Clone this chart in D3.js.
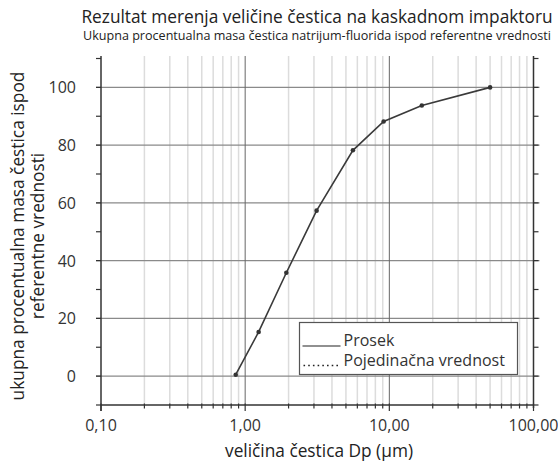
<!DOCTYPE html>
<html>
<head>
<meta charset="utf-8">
<script src="https://cdn.jsdelivr.net/npm/d3@7"></script>
<style>
  body { margin: 0; background: #fff; }
  svg { font-family: "Open Sans", sans-serif; }
</style>
</head>
<body>
<div id="chart"></div>
<script>
// measured particle size (µm) and cumulative mass % below it
const sizes = [0.86, 1.24, 1.93, 3.13, 5.59, 9.13, 16.8, 50]
const massPct = [0.5, 15.3, 35.8, 57.3, 78.2, 88.2, 93.7, 100]

const xTickLabels = ["0,10", "1,00", "10,00", "100,00"]
const yTickLabels = [0, 20, 40, 60, 80, 100]
const legendLabels = ["Prosek", "Pojedinačna vrednost"]

const title = "Rezultat merenja veličine čestica na kaskadnom impaktoru"
const subtitle = "Ukupna procentualna masa čestica natrijum-fluorida ispod referentne vrednosti"

const W = 558, H = 463
const svg = d3.select("#chart").append("svg")
    .attr("width", W)
    .attr("height", H)

const x = d3.scaleLog().domain([0.1, 100]).range([101, 533.5])
const y = d3.scaleLinear().domain([-10, 110]).range([405, 58.5])

const dark = "#333"

// minor vertical grid (2..9 within each decade)
const minorX = []
for (let d = 0.1; d < 100; d *= 10) {
    for (let k = 2; k <= 9; k += 1) minorX.push(d * k)
}
const decades = [0.1, 1, 10, 100]

svg.append("g")
    .selectAll("line")
    .data(minorX)
    .enter()
    .append("line")
    .attr("x1", d => x(d)).attr("x2", d => x(d))
    .attr("y1", y(110) - 2.5).attr("y2", y(-10))
    .attr("stroke", "#dcdcdc")
    .attr("stroke-width", 1.5)

// horizontal grid, every 20
svg.append("g")
    .selectAll("line")
    .data(yTickLabels)
    .enter()
    .append("line")
    .attr("x1", x(0.1) - 5).attr("x2", x(100) + 6)
    .attr("y1", d => y(d)).attr("y2", d => y(d))
    .attr("stroke", "#8a8a8a")
    .attr("stroke-width", 1.2)

// decade verticals
svg.append("g")
    .selectAll("line")
    .data(decades.slice(1, 3))
    .enter()
    .append("line")
    .attr("x1", d => x(d)).attr("x2", d => x(d))
    .attr("y1", y(110) - 2.5).attr("y2", y(-10))
    .attr("stroke", "#666")
    .attr("stroke-width", 1)

// left / right axes with ticks every 10
const yTicks = d3.range(-10, 111, 10)
const axisG = svg.append("g").attr("stroke", dark)
axisG.append("line")
    .attr("x1", x(0.1)).attr("x2", x(0.1))
    .attr("y1", y(110) - 2.5).attr("y2", y(-10) + 6)
    .attr("stroke-width", 1.5)
axisG.append("line")
    .attr("x1", x(100)).attr("x2", x(100))
    .attr("y1", y(110) - 2.5).attr("y2", y(-10) + 3)
    .attr("stroke-width", 1.5)
axisG.selectAll(".ltick")
    .data(yTicks)
    .enter()
    .append("line")
    .attr("class", "ltick")
    .attr("x1", x(0.1) - 5).attr("x2", x(0.1))
    .attr("y1", d => y(d)).attr("y2", d => y(d))
    .attr("stroke-width", 1.2)
axisG.selectAll(".rtick")
    .data(yTicks)
    .enter()
    .append("line")
    .attr("class", "rtick")
    .attr("x1", x(100)).attr("x2", x(100) + 5)
    .attr("y1", d => y(d)).attr("y2", d => y(d))
    .attr("stroke-width", 1.2)

// bottom axis
axisG.append("line")
    .attr("x1", x(0.1)).attr("x2", x(100))
    .attr("y1", y(-10)).attr("y2", y(-10))
    .attr("stroke-width", 1.5)
axisG.selectAll(".btick")
    .data(minorX.concat(decades))
    .enter()
    .append("line")
    .attr("class", "btick")
    .attr("x1", d => x(d)).attr("x2", d => x(d))
    .attr("y1", y(-10) - 1.5)
    .attr("y2", d => y(-10) + (decades.includes(d) ? 6 : 3.5))
    .attr("stroke-width", 1.2)

// tick labels
svg.append("g")
    .selectAll("text")
    .data(yTickLabels)
    .enter()
    .append("text")
    .attr("x", 76)
    .attr("y", d => y(d) + 6)
    .attr("text-anchor", "end")
    .attr("font-size", 16)
    .attr("fill", dark)
    .text(d => d)

svg.append("g")
    .selectAll("text")
    .data(decades)
    .enter()
    .append("text")
    .attr("x", d => x(d))
    .attr("y", 431)
    .attr("text-anchor", "middle")
    .attr("font-size", 16)
    .attr("fill", dark)
    .text((d, i) => xTickLabels[i])

// data line + markers
const line = d3.line()
    .x(d => x(d[0]))
    .y(d => y(d[1]))
const pts = sizes.map((s, i) => [s, massPct[i]])

svg.append("path")
    .attr("d", line(pts))
    .attr("fill", "none")
    .attr("stroke", "#3a3a3a")
    .attr("stroke-width", 1.6)

svg.append("g")
    .selectAll("circle")
    .data(pts)
    .enter()
    .append("circle")
    .attr("cx", d => x(d[0]))
    .attr("cy", d => y(d[1]))
    .attr("r", 2.3)
    .attr("fill", "#333")

// legend
const lg = svg.append("g").attr("transform", "translate(299.5,322.5)")
lg.append("rect")
    .attr("width", 218).attr("height", 52)
    .attr("fill", "#fff")
    .attr("stroke", "#555")
    .attr("stroke-width", 1.2)
lg.append("line")
    .attr("x1", 3).attr("x2", 41)
    .attr("y1", 23.5).attr("y2", 23.5)
    .attr("stroke", "#222").attr("stroke-width", 1.2)
lg.append("line")
    .attr("x1", 4).attr("x2", 41)
    .attr("y1", 43).attr("y2", 43)
    .attr("stroke", "#222").attr("stroke-width", 1.6)
    .attr("stroke-dasharray", "1.6,3.1")
lg.selectAll("text")
    .data(legendLabels)
    .enter()
    .append("text")
    .attr("x", 44)
    .attr("y", (d, i) => 23 + i * 20)
    .attr("font-size", 16)
    .attr("fill", dark)
    .text(d => d)

// titles
svg.append("text")
    .attr("x", 317).attr("y", 23)
    .attr("text-anchor", "middle")
    .attr("font-size", 17.3)
    .attr("fill", "#222")
    .text(title)
svg.append("text")
    .attr("x", 317).attr("y", 39.5)
    .attr("text-anchor", "middle")
    .attr("font-size", 13.5)
    .attr("fill", "#222")
    .attr("textLength", 468)
    .attr("lengthAdjust", "spacingAndGlyphs")
    .text(subtitle)

// axis titles
svg.append("text")
    .attr("x", 319).attr("y", 457)
    .attr("text-anchor", "middle")
    .attr("font-size", 17.3)
    .attr("fill", "#222")
    .text("veličina čestica Dp (µm)")

const yl = svg.append("text")
    .attr("transform", "translate(0,236) rotate(-90)")
    .attr("text-anchor", "middle")
    .attr("font-size", 17.3)
    .attr("fill", "#222")
yl.append("tspan").attr("x", 0).attr("y", 24).text("ukupna procentualna masa čestica ispod")
yl.append("tspan").attr("x", 0).attr("y", 44).text("referentne vrednosti")
</script>
</body>
</html>
